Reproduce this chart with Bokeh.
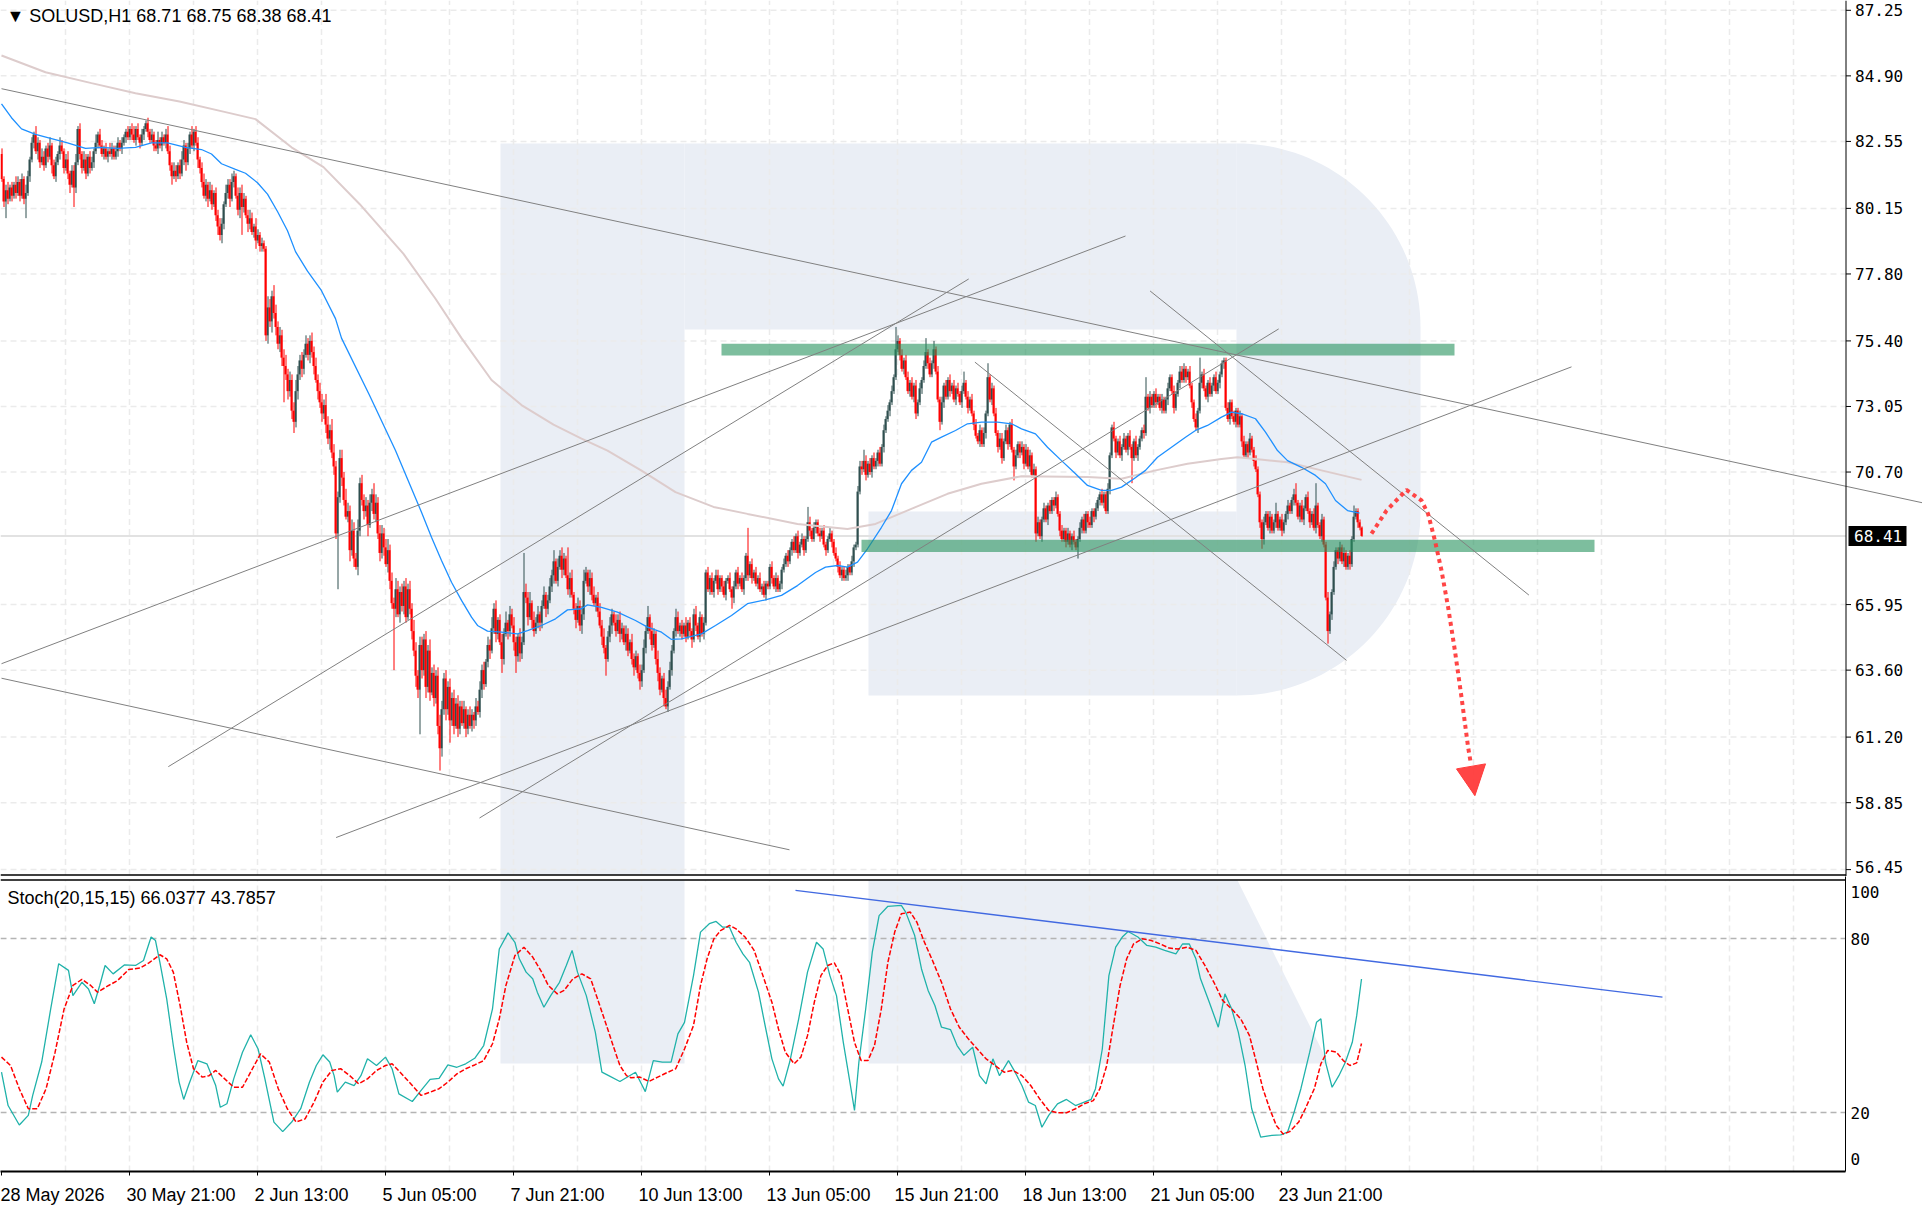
import numpy as np
from bokeh.plotting import figure
from bokeh.layouts import column
from bokeh.models import (Range1d, LinearAxis, FixedTicker, Label, ColumnDataSource)
from bokeh.core.properties import value
from bokeh.embed import file_html
from bokeh.resources import INLINE

FONT = "Liberation Sans"
MONO = "DejaVu Sans Mono"

# ---------------- data (hourly bars, index 0 = 28 May 05:00) ----------------
first_open = 82.1
closes = [
81.2,80.4,80.8,80.5,80.9,80.6,81.0,80.7,81.1,80.6,
81.2,80.5,80.7,81.3,81.9,82.5,82.8,82.2,82.5,81.8,
82.0,81.7,82.3,82.0,82.4,81.7,81.3,81.8,82.1,82.4,
82.2,81.6,81.9,81.4,81.0,81.5,80.9,81.8,83.0,82.1,
81.6,81.9,81.4,82.0,81.6,81.8,82.2,82.5,82.8,82.4,
82.1,82.3,82.0,82.2,82.1,82.3,82.0,82.2,82.5,82.3,
82.5,82.7,82.9,82.7,83.0,82.8,82.6,83.0,82.7,82.5,
82.8,83.0,83.2,82.9,82.6,82.8,82.4,82.3,82.6,82.4,
82.7,82.5,82.8,82.2,81.7,81.3,81.5,81.3,81.7,81.4,
81.9,82.4,81.8,82.3,82.8,82.4,82.9,82.5,81.9,81.6,
81.1,80.6,81.0,80.5,80.8,80.3,80.7,79.9,79.5,79.2,
79.6,80.3,80.7,81.0,80.5,81.1,81.3,80.6,80.1,80.7,
80.2,80.5,79.9,79.6,79.8,79.3,79.5,79.0,79.2,78.8,
78.9,78.7,75.6,76.6,76.1,77.0,76.4,75.9,75.3,75.6,
74.8,74.5,74.2,73.6,74.0,72.9,72.5,73.6,74.2,74.7,
74.4,74.9,75.3,74.9,75.4,75.0,74.5,74.0,73.6,73.2,
72.8,73.1,72.4,71.9,72.2,71.4,70.9,68.5,69.8,71.2,
70.5,69.7,69.1,69.3,67.9,68.6,67.6,67.3,68.6,70.3,
69.7,69.3,69.5,68.8,69.6,69.9,69.2,69.6,68.5,67.8,
68.5,68.0,67.4,67.9,66.8,66.0,65.8,66.5,65.6,66.4,
65.9,66.6,65.5,66.5,65.8,65.0,64.3,63.4,62.9,64.5,
63.6,64.7,63.0,64.3,62.8,63.5,62.6,63.4,61.6,60.8,
62.2,63.3,62.2,63.0,61.8,62.6,61.6,62.4,61.5,62.3,
61.7,62.2,61.5,62.0,61.6,62.0,61.8,62.3,62.1,62.9,
63.6,63.1,63.9,64.5,64.3,65.1,65.8,64.9,65.4,64.6,
64.0,64.9,65.3,65.0,65.6,65.2,64.6,64.1,64.8,64.2,
64.6,66.4,66.2,65.5,66.0,65.4,65.0,65.3,65.6,65.3,
65.9,66.3,65.8,66.1,66.6,67.0,67.5,66.8,67.3,67.7,
67.2,67.6,67.0,66.5,66.9,66.3,65.8,65.4,65.9,65.2,
65.6,66.8,67.1,66.6,66.9,66.3,66.0,66.2,65.7,65.2,
64.8,64.4,64.0,64.8,65.2,65.6,65.3,65.0,65.4,64.9,
65.1,64.6,64.9,64.3,64.6,64.0,63.7,64.1,63.5,63.2,
63.6,64.4,65.0,65.5,65.0,64.5,64.9,64.0,63.5,62.9,
63.3,62.6,62.3,63.0,63.6,64.3,65.0,65.5,65.0,65.2,
64.9,65.2,64.8,65.3,65.0,64.7,65.6,65.2,64.8,65.5,
64.9,65.3,67.1,66.5,66.9,66.4,66.8,67.0,66.5,66.9,
66.6,66.3,66.8,66.9,66.5,66.2,66.6,67.1,66.7,66.9,
66.5,66.9,67.7,67.0,67.4,66.9,67.1,66.7,66.9,66.5,
66.6,66.3,66.7,66.6,67.3,66.9,66.6,66.9,66.5,66.7,
67.2,67.4,67.7,67.5,67.9,68.2,67.9,68.4,67.8,68.1,
68.3,67.9,68.3,68.9,68.6,68.3,68.7,68.9,68.5,68.4,
68.6,68.1,67.9,68.3,68.5,68.2,67.8,67.6,67.3,67.0,
67.2,66.9,67.0,67.3,67.1,67.5,68.0,68.1,70.0,70.9,
70.8,71.1,70.6,71.0,70.7,71.2,70.9,71.1,71.4,71.0,
71.6,72.2,72.6,72.9,73.2,73.6,74.1,75.1,75.4,74.9,
74.4,74.7,74.1,73.6,73.9,73.4,73.8,72.8,73.2,73.7,
74.0,74.5,75.0,74.6,74.2,74.6,75.1,74.3,73.3,72.5,
73.2,73.8,73.4,74.0,73.6,73.8,73.3,73.7,73.5,73.2,
73.6,73.9,73.4,73.0,73.3,72.8,72.4,72.0,71.8,72.2,
71.7,72.1,72.8,74.1,73.3,73.7,72.8,72.1,71.6,71.9,
71.2,71.8,72.2,71.7,72.4,71.5,70.9,71.3,71.7,71.4,
71.6,71.0,71.5,70.9,71.3,70.6,70.8,68.5,68.9,68.4,
69.0,69.4,69.0,69.5,69.3,69.7,69.5,69.8,69.2,68.6,
68.3,68.6,68.2,68.5,68.1,68.4,68.2,68.0,68.3,68.7,
69.0,68.6,69.2,68.9,68.8,69.3,69.1,69.4,69.7,69.9,
69.6,69.9,69.3,70.1,71.3,72.3,71.9,71.4,71.8,71.3,
71.6,71.9,71.5,72.0,71.6,71.2,71.8,71.3,71.6,71.9,
72.2,72.1,73.4,73.0,73.4,73.1,73.5,73.2,73.4,73.0,
73.3,72.9,73.3,73.7,74.1,73.6,73.0,73.5,73.9,74.3,
74.0,74.4,74.1,74.3,73.8,73.2,72.6,72.3,72.9,73.9,
74.2,73.7,73.4,73.9,73.5,73.8,74.1,73.6,73.9,74.2,
74.6,74.7,73.0,72.6,73.2,72.7,72.5,72.9,72.4,72.7,
71.8,71.3,71.7,71.4,71.9,71.5,71.1,70.8,69.9,68.9,
68.3,68.9,69.2,68.7,69.1,68.6,68.9,69.2,68.7,69.0,
68.6,68.9,69.2,69.5,69.3,69.7,69.9,69.6,69.1,69.5,
69.0,69.4,69.8,69.3,68.9,69.2,68.7,69.5,68.8,68.4,
69.0,68.1,66.2,65.0,65.6,66.4,67.3,67.9,67.6,68.0,
67.5,67.8,67.3,67.7,67.4,68.3,69.1,69.3,68.9,68.71,
68.41,
]
up_wick = [
.2,.1,.2,.3,.1,.2,.1,.3,.2,.1,
.2,.1,.3,.2,.1,.2,.1,.3,.2,.1,
.3,.2,.1,.2,.3,.1,.2,.2,.1,.3,
.2,.1,.2,.3,.1,.2,.2,.3,.1,.2,
.1,.3,.2,.1,.2,.2,.1,.3,.1,.2,
.2,.1,.2,.1,.3,.2,.1,.2,.2,.1,
.2,.1,.1,.2,.1,.2,.3,.1,.2,.1,
.2,.1,.1,.2,.1,.2,.1,.2,.3,.1,
.2,.1,.2,.3,.2,.1,.3,.2,.1,.2,
.3,.2,.1,.2,.1,.3,.1,.2,.2,.1,
.2,.3,.2,.1,.3,.2,.1,.2,.2,.3,
.2,.1,.3,.2,.2,.3,.2,.1,.3,.2,
.3,.2,.1,.2,.3,.2,.1,.3,.2,.1,
.2,.1,.1,.4,.3,.2,.4,.3,.2,.3,
.2,.3,.4,.2,.3,.2,.3,.4,.3,.2,
.3,.2,.3,.2,.2,.3,.2,.3,.2,.3,
.3,.2,.4,.3,.2,.4,.3,.2,.2,.3,
.3,.2,.4,.3,.2,.4,.3,.2,.4,.2,
.3,.2,.3,.2,.3,.2,.4,.3,.2,.3,
.3,.2,.3,.4,.2,.3,.2,.4,.3,.2,
.3,.2,.3,.2,.3,.2,.4,.3,.2,.3,
.3,.2,.3,.2,.4,.2,.3,.2,.3,.4,
.3,.2,.3,.2,.3,.2,.3,.2,.3,.2,
.2,.3,.1,.2,.3,.2,.1,.3,.2,.3,
.2,.3,.1,.3,.2,.4,.2,.3,.1,.2,
.3,.2,.4,.1,.3,.2,.3,.2,.1,.3,
.2,1.4,.3,.2,.4,.1,.3,.2,.3,.1,
.2,.3,.1,.2,.3,.2,.4,.1,.3,.2,
.3,.2,.1,1.0,.2,.3,.1,.2,.3,.2,
.3,.4,.2,.1,.3,.2,.3,.1,.2,.3,
.2,.3,.1,.2,.3,.2,.1,.3,.2,.3,
.2,.1,.3,.2,.1,.3,.2,.2,.1,.3,
.2,.3,.2,.4,.1,.3,.2,.1,.3,.2,
.1,.2,.3,.2,.3,.2,.1,.3,.2,.1,
.2,.1,.3,.1,.2,.1,.2,.3,.1,.2,
.1,.2,.1,.2,.1,.2,.1,.2,.2,.1,
.1,.2,.1,.1,.2,.1,.2,.1,.2,.1,
.2,.1,.1,1.0,.1,.2,.1,.2,.1,.2,
.1,.2,.1,.1,.1,.2,.1,.2,.1,.1,
.1,.2,.1,.2,.1,.1,.2,.1,.2,.1,
.2,.1,.1,.55,.2,.1,.2,.1,.1,.2,
.1,.2,.1,.1,.2,.1,.1,.2,.1,.2,
.1,.1,.2,.1,.1,.2,.1,.1,.2,.2,
.2,.4,.2,.1,.2,.1,.2,.1,.1,.2,
.1,.2,.1,.2,.1,.2,.1,.8,.2,.1,
.2,.1,.2,.2,.1,.2,.1,.2,.1,.2,
.1,.2,.5,.1,.2,.1,.3,.1,.2,.1,
.2,.1,.2,.1,.2,.1,.2,.1,.2,.1,
.2,.4,.1,.2,.1,.2,.1,.2,.1,.2,
.1,.2,.1,.5,.1,.2,.1,.2,.1,.2,
.2,.1,.2,.1,.1,.2,.1,.2,.1,.1,
.2,.1,.2,.1,.2,.1,.2,.1,.2,.1,
.1,.2,.1,.1,.2,.1,.1,.2,.1,.1,
.2,.1,.1,.2,.1,.1,.2,.1,.1,.2,
.1,.2,.1,.1,.2,.1,.1,.2,.1,.1,
.2,.1,.1,.2,.1,.1,.2,.1,.1,.2,
.1,.2,.1,.1,.2,.1,.1,.2,.1,.1,
.1,.2,.7,.1,.2,.1,.1,.2,.1,.1,
.2,.1,.1,.2,.1,.1,.2,.1,.1,.2,
.2,.2,.1,.1,.2,.1,.1,.2,.1,.9,
.1,.2,.1,.1,.2,.1,.1,.2,.1,.1,
.1,.1,.1,.2,.1,.1,.2,.1,.1,.2,
.1,.2,.1,.1,.2,.1,.1,.2,.1,.1,
.1,.2,.1,.1,.2,.1,.1,.4,.1,.1,
.2,.1,.1,.2,.1,.1,.2,.4,.1,.1,
.2,.1,.1,.2,.1,.1,.2,.8,.1,.1,
.2,.1,.1,.2,.1,.1,.2,.1,.1,.2,
.1,.2,.1,.1,.2,.1,.4,.1,.1,.1,
.04,
]
dn_wick = [
.1,.2,.6,.2,.1,.2,.1,.2,.1,.2,
.1,.2,.7,.1,.2,.1,.2,.1,.3,.2,
.1,.2,.1,.2,.1,.3,.1,.2,.1,.2,
.1,.2,.1,.2,.3,.1,.7,.2,.1,.2,
.2,.1,.2,.1,.2,.1,.2,.1,.2,.1,
.1,.2,.1,.2,.1,.2,.1,.1,.2,.1,
.2,.1,.2,.1,.1,.2,.1,.2,.1,.2,
.1,.2,.1,.2,.1,.1,.2,.1,.2,.1,
.2,.1,.2,.1,.2,.3,.1,.2,.1,.2,
.1,.2,.3,.1,.2,.1,.2,.1,.3,.2,
.2,.1,.2,.3,.1,.2,.1,.2,.3,.2,
.3,.2,.1,.2,.3,.1,.2,.1,.2,.3,
1.0,.2,.1,.3,.2,.1,.2,.3,.1,.2,
.2,.1,.2,.3,.2,.4,.2,.3,.2,.3,
.3,1.3,.2,.3,.2,.3,.4,.2,.3,.2,
.3,.2,.1,.2,.3,.2,.3,.1,.3,.2,
.3,.2,.3,.2,.4,.2,.3,.2,2.0,.2,
.3,.2,.1,.2,.4,.2,.3,.1,.3,.2,
.2,.3,.2,.4,.1,.3,.2,.3,.2,.3,
.2,.3,.1,.3,.3,.2,2.2,.3,.1,.3,
.2,.3,.2,.1,.2,.3,.2,.4,.3,1.6,
.3,.2,.4,.2,.3,.1,.3,.2,.3,.8,
.3,.2,.4,.2,.8,.2,.3,.1,.3,.2,
.1,.2,.3,.2,.1,.2,.3,.2,.1,.2,
.3,.2,.1,.2,.3,.1,.2,.3,.2,.1,
.5,.2,.1,.3,.2,.1,.3,.6,.2,.3,
.2,.1,.2,.3,.1,.3,.2,.1,.2,.3,
.2,.1,.3,.2,.1,.2,.3,.1,.2,.1,
.3,.2,.1,.2,.3,.1,.2,.3,.1,.2,
.3,.2,.1,.2,.3,.2,.1,.3,.2,.1,
.3,.2,.6,.1,.2,.3,.1,.2,.1,.3,
.2,.1,.3,.2,.1,.2,.3,.1,.2,.3,
.2,.1,.2,.1,.3,.2,.1,.2,.3,.2,
.1,.3,.1,.2,.1,.2,.1,.2,.1,.2,
.2,.1,.2,.1,.2,.3,.1,.2,.1,.2,
.1,.2,.1,.1,.2,.1,.2,.1,.2,.1,
.2,.1,.2,.1,.1,.4,.2,.1,.2,.1,
.1,.2,.1,.2,.1,.2,.1,.1,.2,.1,
.2,.1,.2,.1,.1,.2,.1,.2,.1,.1,
.2,.1,.1,.2,.1,.2,.1,.1,.2,.1,
.1,.2,.1,.1,.2,.1,.1,.2,.1,.2,
.1,.1,.2,.1,.1,.2,.1,.1,.2,.1,
.2,.1,.1,.2,.1,.1,.2,.1,.1,.1,
.2,.1,.2,.1,.1,.2,.1,.1,.2,.1,
.1,.2,.1,.1,.2,.1,.1,.1,.1,.2,
.1,.2,.1,.1,.2,.1,.2,.2,.1,.1,
.2,.1,.1,.2,.1,.1,.2,.1,.1,.3,
.1,.2,.1,.1,.2,.1,.1,.2,.1,.1,
.2,.1,.1,.2,.1,.1,.2,.1,.1,.2,
.1,.1,.2,.1,.1,.2,.1,.1,.2,.1,
.2,.1,.1,.2,.1,.1,.5,.1,.1,.2,
.1,.2,.1,.1,.2,.1,.1,.3,.1,.1,
.2,.1,.1,.2,.1,.1,.2,.1,.1,.2,
.1,.1,.2,.1,.1,.2,.1,.1,.4,.1,
.2,.1,.1,.2,.1,.1,.2,.1,.1,.2,
.1,.2,.1,.1,.2,.1,.1,.2,.1,.1,
.2,.1,.1,.2,.1,.9,.1,.1,.2,.1,
.1,.2,.1,.1,.2,.1,.1,.2,.1,.1,
.2,.1,.1,.2,.1,.1,.2,.1,.1,.2,
.1,.1,.2,.1,.1,.2,.1,.1,.2,.1,
.2,.1,.1,.2,.1,.1,.2,.1,.1,.2,
.1,.2,.1,.1,.2,.1,.1,.2,.1,.1,
.2,.1,.1,.2,.1,.1,.2,.1,.1,.2,
.35,.2,.1,.1,.2,.1,.1,.2,.1,.1,
.2,.1,.1,.2,.1,.1,.2,.1,.1,.2,
.1,.2,.1,.1,.2,.1,.1,.2,.1,.1,
.2,.1,.1,.45,.1,.2,.1,.1,.2,.1,
.1,.2,.1,.1,.2,.1,.1,.1,.2,.1,
.03,
]

# moving averages (bar, price)
ma_fast = [[0,83.9],[5,83.4],[10,83.0],[17,82.8],[25,82.65],[33,82.5],[42,82.3],[50,82.34],
 [58,82.3],[67,82.34],[75,82.5],[83,82.5],[92,82.34],[100,82.26],[105,82.1],[110,81.75],
 [117,81.55],[122,81.41],[128,81.07],[133,80.66],[138,80.04],[143,79.35],[147,78.6],
 [153,77.9],[160,77.2],[167,76.2],[170,75.5],[184,73.45],[197,71.47],[203,70.45],[210,69.26],
 [215,68.36],[220,67.53],[225,66.75],[230,66.1],[235,65.5],[238,65.2],[243,65.0],[250,64.96],
 [258,64.9],[263,65.02],[270,65.2],[277,65.44],[283,65.76],[290,65.8],[293,65.94],[300,65.85],
 [308,65.68],[317,65.38],[323,65.14],[330,64.96],[335,64.7],[340,64.72],[350,64.9],[357,65.2],
 [365,65.56],[373,65.98],[382,66.12],[390,66.28],[398,66.63],[407,67.1],[412,67.29],[418,67.35],
 [423,67.29],[428,67.47],[433,67.95],[440,68.72],[445,69.32],[450,70.28],[455,70.76],[460,71.05],
 [465,71.77],[470,71.95],[477,72.19],[483,72.43],[490,72.49],[498,72.49],[505,72.43],[510,72.25],
 [517,72.07],[523,71.59],[530,71.11],[537,70.64],[543,70.22],[550,70.04],[555,70.04],[560,70.16],
 [565,70.4],[572,70.76],[578,71.23],[585,71.59],[592,71.95],[597,72.19],[603,72.37],[610,72.67],
 [615,72.85],[620,72.79],[627,72.61],[632,72.13],[638,71.47],[643,71.11],[650,70.87],[657,70.58],
 [662,70.28],[667,69.68],[673,69.32],[679,69.23]]
ma_slow = [[0,85.63],[22,85.03],[45,84.64],[67,84.28],[89,83.98],[112,83.6],[127,83.35],[145,82.34],
 [161,81.63],[179,80.31],[201,78.52],[217,76.91],[230,75.5],[245,74.0],[260,73.1],[276,72.4],
 [290,71.9],[303,71.47],[320,70.75],[337,69.98],[356,69.45],[373,69.2],[398,68.84],[423,68.66],
 [437,68.84],[457,69.44],[473,69.92],[490,70.28],[510,70.55],[543,70.52],[560,70.46],[577,70.76],
 [593,71.0],[610,71.17],[618,71.23],[627,71.17],[643,71.05],[660,70.76],[680,70.42]]

# Stoch(20,15,15): main (%K) and signal (%D), (bar, value)
stoch_k = [[0,33.9],[3.3,22.4],[8.9,15.7],[13.4,19.0],[15.6,25.9],[20.1,37.4],[24.6,55.7],[28.6,71.3],
 [33.5,69.0],[35.7,60.3],[40.2,64.9],[43.5,62.6],[46.4,57.5],[49.1,63.8],[51.8,70.7],[55.8,67.8],
 [61.4,70.9],[67.0,70.7],[71.0,72.4],[74.8,80.5],[77.0,79.3],[79.2,71.8],[82.6,59.2],[85.9,43.1],
 [88.8,30.5],[91.1,24.5],[93.8,29.9],[98.2,37.9],[102.7,36.8],[107.1,29.3],[109.4,21.8],[112.7,23.0],
 [116.1,31.6],[120.5,40.8],[124.6,46.8],[128.3,41.9],[131.7,31.6],[136.2,16.7],[140.6,13.4],
 [145.1,16.7],[149.6,21.3],[154.0,30.5],[157.4,36.2],[160.7,39.9],[164.1,37.4],[166.3,32.7],
 [167.9,27.0],[171.9,30.5],[176.3,29.3],[179.7,32.7],[183.0,38.5],[187.5,36.2],[192.0,39.1],
 [195.3,35.1],[198.7,26.4],[205.4,23.8],[209.8,27.6],[214.3,31.4],[218.8,31.8],[223.2,36.4],
 [227.7,35.6],[232.1,36.8],[236.6,38.7],[241.1,43.1],[245.5,55.7],[248.9,76.4],[253.3,81.95],
 [256.7,78.7],[258.9,73.0],[262.3,68.4],[265.6,66.1],[267.9,61.5],[271.2,56.3],[274.6,60.3],
 [279.0,64.9],[282.4,70.7],[285.3,75.9],[288.0,68.4],[292.4,60.3],[296.9,47.7],[300.2,33.9],
 [303.6,32.7],[309.2,30.7],[317.0,33.9],[321.9,27.2],[325.9,37.9],[330.4,37.4],[334.8,37.4],
 [338.2,47.1],[341.5,51.1],[346.0,67.2],[349.5,82.2],[353.9,85.1],[357.3,85.9],[360.6,83.9],
 [364.0,83.9],[367.3,78.7],[370.7,74.7],[374.0,71.8],[378.5,61.5],[381.8,50.0],[385.2,38.5],
 [388.5,31.6],[390.8,29.1],[394.1,37.4],[398.6,52.3],[403.0,68.4],[407.5,78.7],[410.8,76.4],
 [414.2,67.2],[417.5,60.3],[420.9,44.2],[424.2,30.5],[426.5,20.7],[428.7,37.4],[432.1,55.7],
 [435.4,75.3],[438.8,87.9],[443.2,91.1],[449.9,91.4],[452.1,89.1],[456.6,81.0],[460.0,69.5],
 [463.3,62.1],[466.7,56.9],[470.0,49.4],[474.5,48.6],[477.8,43.1],[481.2,39.7],[485.6,42.5],
 [489.0,32.7],[492.3,29.9],[495.7,38.5],[499.0,32.7],[503.5,37.9],[506.8,33.9],[510.2,29.3],
 [513.5,23.6],[516.9,22.4],[520.2,14.9],[523.6,19.0],[528.0,23.0],[532.5,24.5],[537.0,22.4],
 [541.4,23.6],[544.8,24.5],[547.0,28.2],[550.4,41.9],[553.7,67.2],[557.1,77.0],[560.4,80.5],
 [563.3,82.4],[568.2,80.5],[572.7,77.6],[577.1,77.0],[581.6,75.9],[587.2,74.7],[590.5,78.1],
 [593.9,78.1],[597.2,73.0],[599.5,66.1],[603.9,58.0],[608.4,49.4],[611.7,60.9],[615.1,55.7],
 [618.4,47.7],[621.8,36.2],[625.1,21.3],[629.6,11.5],[635.2,12.1],[639.6,12.3],[643.0,13.2],
 [646.3,20.1],[649.7,28.2],[654.1,40.8],[657.5,51.1],[659.7,52.3],[662.0,37.4],[665.3,28.7],
 [668.7,32.7],[672.0,37.4],[675.4,44.2],[677.6,53.4],[680,66.04]]
stoch_d = [[0,39.1],[4.5,36.2],[8.9,28.2],[13.4,21.3],[17.9,21.3],[22.3,28.2],[26.8,40.8],[31.3,55.7],
 [35.7,63.8],[40.2,65.9],[44.6,63.8],[48.0,61.5],[53.6,63.8],[58.0,65.5],[63.6,69.3],[69.2,69.8],
 [73.7,71.6],[79.2,74.4],[82.6,73.0],[85.9,68.4],[89.3,56.9],[92.6,44.2],[96.0,35.1],[100.4,32.2],
 [103.8,32.7],[107.1,34.5],[111.6,31.6],[116.1,28.7],[120.5,28.7],[125.0,34.5],[129.5,40.2],
 [133.9,37.4],[138.4,28.2],[142.9,21.3],[147.3,16.7],[151.8,17.8],[156.3,23.6],[160.7,30.5],
 [165.2,34.5],[169.6,35.1],[174.1,32.7],[178.6,29.9],[183.0,31.6],[187.5,34.5],[192.0,36.2],
 [195.3,36.8],[200.9,32.7],[205.4,29.3],[209.8,25.9],[214.3,27.0],[218.8,28.2],[223.2,30.5],
 [227.7,33.3],[232.1,35.1],[236.6,36.4],[241.1,37.9],[245.5,43.7],[248.9,52.3],[252.2,63.8],
 [256.7,74.1],[261.2,77.0],[265.6,73.6],[270.1,68.4],[273.4,63.8],[277.9,60.9],[281.3,62.1],
 [285.7,66.1],[290.2,67.8],[294.6,66.1],[298.0,59.2],[302.5,50.0],[305.8,43.1],[309.2,36.2],
 [312.5,32.7],[314.7,32.0],[319.2,32.2],[323.7,30.7],[328.1,32.2],[332.6,33.7],[337.1,35.1],
 [341.5,41.9],[346.0,50.0],[349.5,63.8],[352.8,73.0],[356.2,79.9],[359.5,82.7],[364.0,84.5],
 [367.3,83.3],[371.8,80.5],[376.3,75.9],[380.7,67.2],[385.2,58.0],[388.5,48.8],[391.9,40.8],
 [396.3,36.8],[399.7,39.1],[403.0,46.5],[406.4,58.0],[409.7,67.2],[413.1,70.7],[416.4,71.6],
 [419.8,67.2],[423.1,55.7],[426.5,44.2],[429.8,37.9],[433.2,37.9],[436.5,43.1],[439.9,55.7],
 [443.2,71.8],[446.6,82.2],[449.9,88.5],[454.4,89.1],[457.7,85.6],[461.1,79.3],[465.5,72.4],
 [470.0,64.9],[474.5,55.7],[478.9,49.4],[483.4,45.4],[487.9,41.9],[492.3,38.5],[496.8,36.2],
 [501.3,33.9],[505.7,34.5],[510.2,32.7],[514.6,29.3],[519.1,24.7],[523.6,20.7],[528.0,19.9],
 [532.5,19.9],[537.0,21.3],[541.4,23.0],[545.9,24.1],[549.2,28.2],[552.6,36.2],[555.9,50.0],
 [559.3,63.8],[562.6,73.0],[566.0,78.1],[570.4,79.9],[574.9,79.3],[579.4,78.1],[583.8,76.7],
 [588.3,76.4],[592.8,77.0],[597.2,75.9],[601.7,70.7],[606.2,64.9],[610.6,58.6],[615.1,55.7],
 [619.6,52.3],[624.0,46.5],[627.4,37.4],[630.7,28.2],[634.1,21.3],[637.4,15.5],[640.8,12.6],
 [644.1,13.4],[648.6,16.7],[651.9,21.3],[656.4,28.2],[659.7,36.8],[663.1,41.4],[667.5,40.8],
 [670.9,37.9],[674.2,36.2],[677.6,37.1],[680,43.79]]

# drawn objects (bar, price)
trend_lines = [[0,84.44,961,69.59],[0,63.31,394,57.16],[0,63.83,562,79.16],[83.4,60.14,483.6,77.62],
 [167.3,57.6,785,74.47],[239,58.3,638.6,75.83],[486.7,74.64,672.5,63.95],[574.3,77.19,763.7,66.29]]
stoch_trend = [397, 96.6, 830.5, 59.8]
zones = [[360, 726.5, 74.88, 75.30], [430, 796.5, 67.83, 68.27]]
arrow_x = [685, 692.5, 702.5, 710, 713.3, 716.7, 720, 723.3, 726.7, 730, 733.3, 734.7]
arrow_y = [68.49, 69.32, 70.06, 69.68, 69.2, 68.25, 67.17, 65.86, 64.3, 62.63, 60.84, 60.24]
arrow_head_x = [727.5, 742, 736.7]
arrow_head_y = [60.06, 60.24, 59.1]

price_ticks = [87.25, 84.90, 82.55, 80.15, 77.80, 75.40, 73.05, 70.70, 65.95, 63.60, 61.20, 58.85, 56.45]
last_price = 68.41
date_ticks = [0, 64, 128, 192, 256, 320, 384, 448, 512, 576, 640]
date_labels = ["28 May 2026", "30 May 21:00", "2 Jun 13:00", "5 Jun 05:00", "7 Jun 21:00",
               "10 Jun 13:00", "13 Jun 05:00", "15 Jun 21:00", "18 Jun 13:00", "21 Jun 05:00",
               "23 Jun 21:00"]
stoch_levels = [20, 80]
header_text = "\u25BC SOLUSD,H1  68.71 68.75 68.38 68.41"
stoch_text = "Stoch(20,15,15) 66.0377 43.7857"

# ---------------- geometry of the panes (page has no margin) ----------------
PX_PER_BAR = 2.0
X0 = -0.5                     # bar at the left edge of both panes
AXIS_BAR = 922.25             # price-scale line
MAIN_W, MAIN_H = 1922, 876
P_PX = 27.9                   # pixels per price unit
P_TOP = 87.25 + 9.8 / P_PX
P_BOT = P_TOP - MAIN_H / P_PX
MAIN_BORDER = P_TOP - 874.5 / P_PX
ST_W, ST_H = 1845, 295
S_PX = 2.9
S_TOP = (1170 - 876) / S_PX
S_BOT = S_TOP - ST_H / S_PX
S_BORDER = (1170 - 879.5) / S_PX

BULL = "#2f4f4f"
BEAR = "#ff0000"
LOGO = "#eaeef5"
GRIDC = "#ebebeb"

# ---------------- candles ----------------
n = len(closes)
def fit(a, n, d):
    a = list(a)[:n]
    return a + [d] * (n - len(a))
uw = np.array(fit(up_wick, n, 0.1))
dw = np.array(fit(dn_wick, n, 0.1))
c = np.array(closes, dtype=float)
o = np.concatenate([[first_open], c[:-1]])
top = np.maximum(o, c)
bot = np.minimum(o, c)
thin = (top - bot) < 0.04
top = np.where(thin, top + 0.02, top)
bot = np.where(thin, bot - 0.02, bot)
hi = np.maximum(o, c) + uw
lo = np.minimum(o, c) - dw
idx = np.arange(n)
bull = c >= o

# ---------------- main pane ----------------
p = figure(frame_width=MAIN_W, frame_height=MAIN_H,
           x_range=Range1d(X0, X0 + MAIN_W / PX_PER_BAR), y_range=Range1d(P_BOT, P_TOP),
           output_backend="svg", toolbar_location=None,
           x_axis_location=None, y_axis_location=None,
           min_border_left=0, min_border_right=0, min_border_top=0, min_border_bottom=0,
           outline_line_color=None, background_fill_color="white", border_fill_color="white")
p.xgrid.visible = False
p.ygrid.visible = False

# watermark logo
cx, rx, ry = 617.5, 92.0, 6.6
cy_top, cy_bot = 75.88, 69.29
t1 = np.linspace(np.pi / 2, 0, 40)
t2 = np.linspace(0, -np.pi / 2, 40)
cap_x = np.concatenate([[cx], cx + rx * np.cos(t1), cx + rx * np.cos(t2)])
cap_y = np.concatenate([[82.48], cy_top + ry * np.sin(t1), cy_bot + ry * np.sin(t2)])
p.quad(left=[249.5, 341.5, 433.5], right=[341.5, 617.6, 617.6], bottom=[MAIN_BORDER, 75.81, 62.69],
       top=[82.48, 82.48, 69.29], fill_color=LOGO, line_color=None, level="image")
p.patch(cap_x, cap_y, fill_color=LOGO, line_color=None, level="image")

# grid
vgrid = list(range(32, 922, 32))
p.segment(x0=vgrid, x1=vgrid, y0=[MAIN_BORDER] * len(vgrid), y1=[P_TOP] * len(vgrid),
          line_color=GRIDC, line_dash="6 4", line_width=1.5, level="underlay")
p.segment(x0=[X0] * len(price_ticks), x1=[AXIS_BAR] * len(price_ticks), y0=price_ticks, y1=price_ticks,
          line_color=GRIDC, line_dash="6 4", line_width=1.5, level="underlay")
p.segment(x0=[X0], x1=[AXIS_BAR], y0=[last_price], y1=[last_price], line_color="#e2e2e2",
          line_width=2, level="underlay")

for mask, col in ((bull, BULL), (~bull, BEAR)):
    src = ColumnDataSource(dict(x=idx[mask], xw=idx[mask] + 0.25, hi=hi[mask], lo=lo[mask],
                                top=top[mask], bot=bot[mask]))
    p.segment(x0="xw", y0="lo", x1="xw", y1="hi", source=src, line_color=col, line_width=1)
    p.vbar(x="x", width=1.0, top="top", bottom="bot", source=src, fill_color=col, line_color=None)

p.line([q[0] for q in ma_slow], [q[1] for q in ma_slow], line_color="#ddcccc", line_width=2)
p.line([q[0] for q in ma_fast], [q[1] for q in ma_fast], line_color="#1e90ff", line_width=1.3)

for z in zones:
    p.quad(left=[z[0]], right=[z[1]], bottom=[z[2]], top=[z[3]],
           fill_color="#26935d", fill_alpha=0.6, line_color=None)

p.segment(x0=[t[0] for t in trend_lines], y0=[t[1] for t in trend_lines],
          x1=[t[2] for t in trend_lines], y1=[t[3] for t in trend_lines],
          line_color="#808080", line_width=1)

p.line(arrow_x, arrow_y, line_color="#ff3b3b", line_width=4, line_dash="4 4", line_alpha=0.95)
p.patch(arrow_head_x, arrow_head_y, fill_color="#ff3b3b", line_color="#ff3b3b", fill_alpha=0.95)

# price scale (drawn on the main pane's own scales)
p.segment(x0=[AXIS_BAR], x1=[AXIS_BAR], y0=[P_BOT], y1=[P_TOP], line_color="black", line_width=1)
p.segment(x0=[AXIS_BAR] * len(price_ticks), x1=[AXIS_BAR + 2.5] * len(price_ticks),
          y0=price_ticks, y1=price_ticks, line_color="black", line_width=1)
p.segment(x0=[X0], x1=[AXIS_BAR], y0=[MAIN_BORDER], y1=[MAIN_BORDER], line_color="black", line_width=1.5)
label_dy = [-3 if v == min(price_ticks) else 0 for v in price_ticks]
p.text(x=[AXIS_BAR + 4.5] * len(price_ticks), y=price_ticks, text=["%.2f" % v for v in price_ticks],
       y_offset=label_dy, text_font=value(MONO), text_font_size="16px", text_color="black",
       text_baseline="middle", text_align="left")
p.quad(left=[AXIS_BAR + 1.25], right=[AXIS_BAR + 30.25], bottom=[last_price - 10 / P_PX],
       top=[last_price + 10 / P_PX], fill_color="black", line_color=None)
p.text(x=[AXIS_BAR + 4.0], y=[last_price], text=["%.2f" % last_price], text_font=value(MONO),
       text_font_size="16px", text_color="white", text_baseline="middle", text_align="left")

p.add_layout(Label(x=6, y=MAIN_H - 15, x_units="screen", y_units="screen", text=header_text,
                   text_font=FONT, text_font_size="18px", text_color="black", text_baseline="middle"))

# ---------------- stochastic pane ----------------
s = figure(frame_width=ST_W, frame_height=ST_H,
           x_range=Range1d(X0, X0 + ST_W / PX_PER_BAR), y_range=Range1d(S_BOT, S_TOP),
           output_backend="svg", toolbar_location=None,
           x_axis_location=None, y_axis_location=None,
           min_border_left=0, min_border_right=1922 - ST_W, min_border_top=0, min_border_bottom=0,
           outline_line_color=None, background_fill_color="white", border_fill_color="white")
s.xgrid.visible = False
s.ygrid.visible = False

s.quad(left=[249.5], right=[341.5], bottom=[36.9], top=[S_BORDER], fill_color=LOGO, line_color=None, level="image")
s.patch([433.5, 617.9, 663.5, 433.5], [S_BORDER, S_BORDER, 36.9, 36.9], fill_color=LOGO, line_color=None,
        level="image")

s.segment(x0=vgrid, x1=vgrid, y0=[S_BOT] * len(vgrid), y1=[S_BORDER] * len(vgrid),
          line_color=GRIDC, line_dash="6 4", line_width=1.5, level="underlay")
s.segment(x0=[X0] * 2, x1=[AXIS_BAR] * 2, y0=stoch_levels, y1=stoch_levels,
          line_color="#b4b4b4", line_dash="6 4", line_width=1.5, level="underlay")
s.segment(x0=[X0], x1=[AXIS_BAR], y0=[S_BORDER], y1=[S_BORDER], line_color="black", line_width=1.5)

s.line([q[0] for q in stoch_k], [q[1] for q in stoch_k], line_color="#20b2aa", line_width=1.3)
s.line([q[0] for q in stoch_d], [q[1] for q in stoch_d], line_color="#ff0000", line_width=1.5,
       line_dash="5 2")
s.line([stoch_trend[0], stoch_trend[2]], [stoch_trend[1], stoch_trend[3]],
       line_color="#4169e1", line_width=1.3)

srax = LinearAxis(ticker=FixedTicker(ticks=[4, 20, 80, 96]),
                  major_label_overrides={4: "0", 20: "20", 80: "80", 96: "100"},
                  axis_line_color="black", axis_line_width=1, major_tick_out=0, major_tick_in=0,
                  major_tick_line_color=None, minor_tick_line_color=None,
                  major_label_text_font=MONO, major_label_text_font_size="16px",
                  major_label_text_color="black", major_label_standoff=5)
s.add_layout(srax, "right")

# time scale: small tick marks at the bars (minor ticks), labels start just left of each tick
CW = {"M": .833, "a": .556, "y": .5, "J": .5, "u": .556, "n": .556, " ": .278, ":": .278}
def text_w(t, size=18):
    return sum(CW.get(ch, .556) for ch in t) * size
centers = []
for t, lab in zip(date_ticks, date_labels):
    w_bars = text_w(lab) / PX_PER_BAR
    start = max(t - 1.5, X0)
    centers.append(round(start + w_bars / 2, 3))
xax = LinearAxis(ticker=FixedTicker(ticks=centers, minor_ticks=date_ticks),
                 major_label_overrides=dict(zip(centers, date_labels)),
                 axis_line_color="black", axis_line_width=2,
                 major_tick_line_color=None, major_tick_out=0, major_tick_in=0,
                 minor_tick_line_color="black", minor_tick_out=4, minor_tick_in=0,
                 major_label_text_font=FONT, major_label_text_font_size="18px",
                 major_label_text_color="black", major_label_standoff=9)
s.add_layout(xax, "below")

s.add_layout(Label(x=7, y=ST_H - 21.5, x_units="screen", y_units="screen", text=stoch_text,
                   text_font=FONT, text_font_size="18px", text_color="black", text_baseline="middle"))

layout = column(p, s, spacing=0)
open("out.html", "w").write(file_html(layout, INLINE))
